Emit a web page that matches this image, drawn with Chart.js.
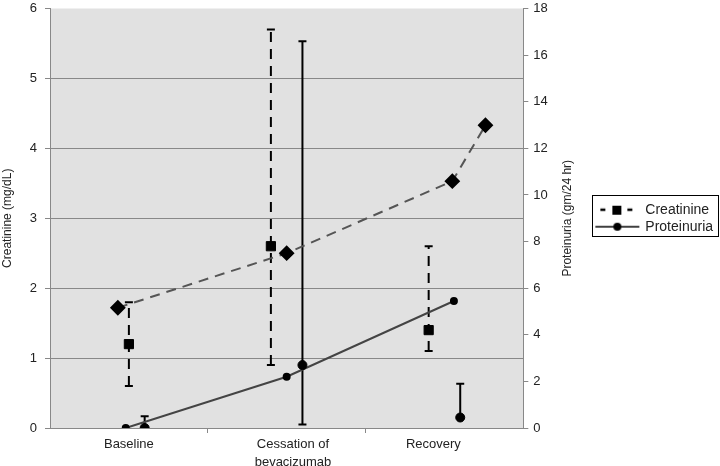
<!DOCTYPE html>
<html>
<head>
<meta charset="utf-8">
<script src="https://cdn.jsdelivr.net/npm/chart.js@4.4.0/dist/chart.umd.min.js"></script>
<style>
  html, body { margin: 0; background: #fff; }
  #wrap { width: 720px; height: 466px; }
</style>
</head>
<body>
<div id="wrap"><canvas id="myChart"></canvas></div>
<script>
// categories and where their labels sit on the x scale
const categories = ['Baseline', ['Cessation of', 'bevacizumab'], 'Recovery'];
const labelX = [0.5, 1.54, 2.43];
const boundaryX = [1, 2];

// creatinine mean with range (mg/dL, left axis)
const creatX = [0.5, 1.4, 2.4];
const creatMean = [1.2, 2.6, 1.4];
const creatLow = [0.6, 0.9, 1.1];
const creatHigh = [1.8, 5.7, 2.6];

// proteinuria mean with range (gm/24 hr, right axis)
const protX = [0.6, 1.6, 2.6];
const protMean = [0, 2.7, 0.45];
const protLow = [0, 0.15, 0.45];
const protHigh = [0.5, 16.6, 1.9];

// trend lines
const trendCreatX = [0.43, 1.5, 2.55, 2.76];
const trendCreat = [1.72, 2.5, 3.53, 4.33];
const trendProtX = [0.48, 1.5, 2.56];
const trendProt = [0, 2.2, 5.45];

const pts = (xs, ys) => xs.map((x, i) => ({ x: x, y: ys[i] }));

// legend swatches: line + marker
function swatch(dashed, square) {
    const c = document.createElement('canvas');
    c.width = 46; c.height = 14;
    const g = c.getContext('2d');
    g.strokeStyle = '#000'; g.fillStyle = '#000'; g.lineWidth = dashed ? 2.5 : 1.5;
    g.beginPath();
    if (dashed) {
        g.moveTo(6, 7); g.lineTo(11, 7);
        g.moveTo(33, 7); g.lineTo(38, 7);
    } else {
        g.moveTo(1, 7); g.lineTo(45, 7);
    }
    g.stroke();
    if (square) g.fillRect(18, 3, 9, 9);
    else { g.beginPath(); g.arc(23, 7, 4, 0, Math.PI * 2); g.fill(); }
    return c;
}
const creatSwatch = swatch(true, true);
const protSwatch = swatch(false, false);

const datasets = [
    {
        label: 'Creatinine', yAxisID: 'y', data: pts(creatX, creatMean),
        showLine: false, pointStyle: 'rect', pointRadius: 6.5,
        pointBackgroundColor: '#000', pointBorderColor: '#000'
    },
    {
        label: 'Proteinuria', yAxisID: 'y1', data: pts(protX, protMean),
        showLine: false, pointStyle: 'circle', pointRadius: 4.5,
        pointBackgroundColor: '#000', pointBorderColor: '#000'
    },
    {
        label: 'trend-creat', yAxisID: 'y', data: pts(trendCreatX, trendCreat),
        showLine: true, borderColor: '#555', borderWidth: 2, borderDash: [10, 7],
        pointStyle: 'rectRot', pointRadius: 6.5,
        pointBackgroundColor: '#000', pointBorderColor: '#000'
    },
    {
        label: 'trend-prot', yAxisID: 'y1', data: pts(trendProtX, trendProt),
        showLine: true, borderColor: '#444', borderWidth: 2,
        pointStyle: 'circle', pointRadius: 3,
        pointBackgroundColor: '#000', pointBorderColor: '#000'
    }
];

// error bars
creatX.forEach((x, i) => {
    datasets.push({
        label: 'creat-range', yAxisID: 'y',
        data: [{ x: x, y: creatLow[i] }, { x: x, y: creatHigh[i] }],
        showLine: true, borderColor: '#000', borderWidth: 2, borderDash: [10, 7],
        pointStyle: 'line', pointRadius: 4, pointBorderWidth: 2, pointBorderColor: '#000'
    });
});
protX.forEach((x, i) => {
    datasets.push({
        label: 'prot-range', yAxisID: 'y1',
        data: [{ x: x, y: protLow[i] }, { x: x, y: protHigh[i] }],
        showLine: true, borderColor: '#000', borderWidth: 2,
        pointStyle: 'line', pointRadius: 4, pointBorderWidth: 2, pointBorderColor: '#000'
    });
});

const family = 'Liberation Sans, Arial, sans-serif';
const titleFont = { family: family, size: 12 };
const rightTitle = 'Proteinuria (gm/24 hr)';
const padRight = 8;

const plotBackground = {
    id: 'plotBackground',
    afterLayout(chart) {
        // let the legend text run to the canvas edge
        chart.legend.right += padRight;
        chart.legend.width += padRight;
    },
    beforeDraw(chart) {
        const a = chart.chartArea, c = chart.ctx;
        c.save();
        c.fillStyle = '#e1e1e1';
        c.fillRect(a.left, a.top, a.right - a.left, a.bottom - a.top);
        c.restore();
    },
    afterDraw(chart) {
        // right axis title reads bottom-to-top like the left one
        const s = chart.scales.y1, c = chart.ctx;
        c.save();
        c.translate(s.left + 44, (s.top + s.bottom) / 2);
        c.rotate(-Math.PI / 2);
        c.font = titleFont.size + 'px ' + family;
        c.fillStyle = '#222';
        c.textAlign = 'center';
        c.textBaseline = 'middle';
        c.fillText(rightTitle, 0, 0);
        c.restore();
    }
};

const legendBorder = {
    id: 'legendBorder',
    afterDraw(chart) {
        const boxes = chart.legend.legendHitBoxes;
        if (!boxes || !boxes.length) return;
        let l = Infinity, t = Infinity, b = -Infinity;
        boxes.forEach(h => {
            l = Math.min(l, h.left); t = Math.min(t, h.top);
            b = Math.max(b, h.top + h.height);
        });
        const c = chart.ctx;
        c.save();
        c.strokeStyle = '#000'; c.lineWidth = 1;
        const x0 = Math.round(l - 4) + 0.5;
        c.strokeRect(x0, Math.round(t - 8) + 0.5, 718.5 - x0, Math.round(b - t + 10));
        c.restore();
    }
};

const font = { family: family, size: 13 };
const ctx = document.getElementById('myChart').getContext('2d');
const myChart = new Chart(ctx, {
    type: 'scatter',
    data: { datasets: datasets },
    plugins: [plotBackground, legendBorder],
    options: {
        responsive: true,
        maintainAspectRatio: false,
        animation: false,
        layout: { padding: { top: 0, right: padRight, left: 0, bottom: 0 } },
        plugins: {
            tooltip: { enabled: false },
            legend: {
                position: 'right',
                fullSize: false,
                labels: {
                    font: { family: family, size: 14 }, color: '#222',
                    usePointStyle: true, pointStyleWidth: 42, padding: 3,
                    generateLabels: chart => [
                        { text: 'Creatinine', pointStyle: creatSwatch, datasetIndex: 0, fontColor: '#222', lineWidth: 0 },
                        { text: 'Proteinuria', pointStyle: protSwatch, datasetIndex: 1, fontColor: '#222', lineWidth: 0 }
                    ]
                }
            }
        },
        scales: {
            x: {
                type: 'linear', min: 0, max: 3,
                afterBuildTicks: s => {
                    s.ticks = [...labelX, ...boundaryX].sort((a, b) => a - b).map(v => ({ value: v }));
                },
                afterFit: s => { s.height = 38; s.paddingLeft = 0; s.paddingRight = 0; },
                ticks: {
                    autoSkip: false, maxRotation: 0, color: '#222', padding: 2,
                    font: { family: family, size: 13, lineHeight: 1.4 },
                    callback: v => {
                        const i = labelX.indexOf(v);
                        return i >= 0 ? categories[i] : '';
                    }
                },
                grid: {
                    drawOnChartArea: false, tickLength: 5,
                    tickColor: c => boundaryX.includes(c.tick.value) ? '#888' : 'transparent'
                },
                border: { color: '#888' }
            },
            y: {
                position: 'left', min: 0, max: 6,
                afterFit: s => { s.width = 50; s.paddingTop = 5; s.paddingBottom = 0; },
                ticks: { stepSize: 1, font: font, color: '#222', padding: 8 },
                grid: {
                    color: c => (c.tick.value === 0 || c.tick.value === 6) ? 'transparent' : '#888',
                    tickColor: '#888', tickLength: 5
                },
                border: { color: '#888' },
                title: {
                    display: true, text: 'Creatinine (mg/dL)', color: '#222',
                    font: titleFont, padding: { top: 0, bottom: 8 }
                }
            },
            y1: {
                position: 'right', min: 0, max: 18,
                afterFit: s => { s.width = 70; s.paddingTop = 5; s.paddingBottom = 0; },
                ticks: { stepSize: 2, font: font, color: '#222', padding: 5 },
                grid: { drawOnChartArea: false, tickColor: '#888', tickLength: 5 },
                border: { color: '#888' }
            }
        }
    }
});
</script>
</body>
</html>
